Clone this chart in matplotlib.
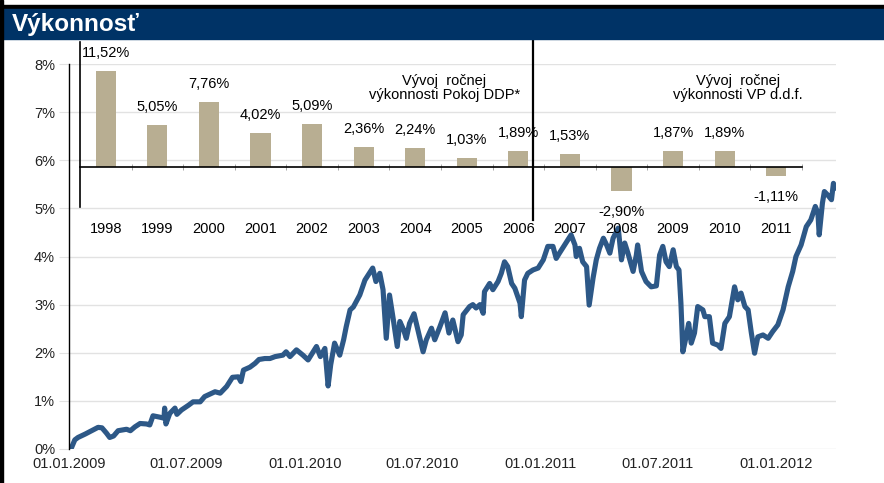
import numpy as np
import matplotlib
matplotlib.use('Agg')
import matplotlib.pyplot as plt
import matplotlib.dates as mdates
from matplotlib.patches import Rectangle

plt.rcParams['font.family'] = ['Liberation Sans', 'DejaVu Sans']

# hlavny graf - dni od 01.01.2009 a vykonnost v %
start = np.datetime64('2009-01-01')
dni = np.array([
    3, 9, 14, 25, 35, 45, 51, 58, 63, 69, 76, 89, 95, 102, 110, 120, 125, 130, 141, 147,
    148, 150, 156, 164, 167, 174, 185, 192, 203, 210, 221, 226, 234, 244, 253, 262, 266, 270, 280, 288,
    294, 303, 311, 319, 331, 336, 342, 352, 362, 370, 383, 389, 396, 401, 405, 411, 419, 425, 429, 435,
    440, 450, 458, 470, 475, 481, 486, 491, 496, 502, 508, 512, 518, 522, 527, 534, 540, 548, 553, 561,
    566, 574, 582, 588, 594, 602, 607, 610, 620, 625, 630, 636, 641, 643, 651, 656, 664, 669, 674, 679,
    685, 690, 698, 700, 705, 710, 718, 726, 734, 741, 749, 754, 759, 767, 777, 783, 785, 790, 795, 801,
    805, 811, 816, 821, 827, 832, 837, 842, 850, 855, 860, 865, 873, 878, 880, 886, 893, 901, 909, 914,
    919, 924, 929, 935, 940, 944, 947, 950, 955, 959, 963, 968, 973, 981, 984, 991, 996, 1004, 1009, 1015,
    1022, 1030, 1035, 1040, 1046, 1051, 1056, 1061, 1066, 1074, 1082, 1089, 1097, 1105, 1113, 1120, 1125, 1133, 1141, 1148,
    1155, 1159, 1161, 1166, 1169, 1174, 1180, 1183, 1186])
vykonnost = np.array([
    0.00, 0.19, 0.24, 0.31, 0.38, 0.45, 0.44, 0.33, 0.24, 0.27, 0.38, 0.41, 0.38, 0.46, 0.53, 0.52, 0.50, 0.69, 0.66, 0.64,
    0.85, 0.52, 0.74, 0.85, 0.72, 0.81, 0.91, 0.98, 0.98, 1.09, 1.16, 1.19, 1.16, 1.30, 1.49, 1.50, 1.40, 1.64, 1.70, 1.78,
    1.86, 1.88, 1.88, 1.92, 1.95, 2.02, 1.92, 2.06, 1.95, 1.85, 2.13, 1.92, 2.09, 1.31, 1.75, 2.20, 1.95, 2.27, 2.54, 2.89,
    2.95, 3.20, 3.51, 3.76, 3.48, 3.65, 3.31, 2.30, 3.20, 2.68, 2.13, 2.65, 2.47, 2.30, 2.61, 2.81, 2.47, 2.02, 2.27, 2.51,
    2.27, 2.54, 2.83, 2.41, 2.68, 2.23, 2.37, 2.79, 2.96, 3.00, 2.93, 3.00, 2.82, 3.27, 3.44, 3.31, 3.48, 3.65, 3.89, 3.79,
    3.44, 3.34, 3.03, 2.75, 3.51, 3.65, 3.72, 3.76, 3.93, 4.21, 4.21, 3.96, 4.07, 4.24, 4.45, 4.24, 4.00, 4.17, 3.89, 3.79,
    2.99, 3.55, 3.93, 4.17, 4.38, 4.24, 4.07, 4.38, 4.59, 3.93, 4.28, 4.07, 3.69, 4.03, 4.24, 3.69, 3.48, 3.37, 3.39, 4.03,
    4.21, 3.89, 3.79, 4.14, 3.79, 3.72, 3.03, 2.02, 2.33, 2.61, 2.20, 2.41, 2.96, 2.89, 2.75, 2.75, 2.20, 2.16, 2.09, 2.61,
    2.75, 3.37, 3.10, 3.24, 2.96, 2.89, 2.41, 1.99, 2.33, 2.37, 2.30, 2.44, 2.58, 2.89, 3.37, 3.69, 4.00, 4.24, 4.62, 4.76,
    5.04, 4.90, 4.45, 5.11, 5.35, 5.28, 5.18, 5.52, 5.42])
datumy = start + dni.astype('timedelta64[D]')
x_datumy = ['2009-01-01', '2009-07-01', '2010-01-01', '2010-07-01', '2011-01-01', '2011-07-01', '2012-01-01']

# rocna vykonnost (vlozeny graf)
roky = ['1998', '1999', '2000', '2001', '2002', '2003', '2004', '2005', '2006', '2007',
        '2008', '2009', '2010', '2011']
rocne = [11.52, 5.05, 7.76, 4.02, 5.09, 2.36, 2.24, 1.03, 1.89, 1.53, -2.90, 1.87, 1.89, -1.11]
hranica = 8.28  # ciara medzi Pokoj DDP a VP d.d.f.

W, H = 884, 483
modra = '#2d5887'
bezova = '#b8ae92'


def box(l, t, r, b):
    return [l / W, 1 - b / H, (r - l) / W, (b - t) / H]


fig = plt.figure(figsize=(W / 100, H / 100), dpi=100)
fig.patch.set_facecolor('white')

# hlavicka
fig.patches.append(Rectangle((0, 1 - 9 / H), 1, 4 / H, transform=fig.transFigure, color='black'))
fig.patches.append(Rectangle((0, 1 - 39 / H), 1, 30 / H, transform=fig.transFigure, color='#003366'))
fig.patches.append(Rectangle((0, 0), 2.5 / W, 1, transform=fig.transFigure, color='black'))
fig.text(12 / W, 1 - 24 / H, 'Výkonnosť', color='white', fontsize=17.5, fontweight='bold', va='center')

# hlavny graf
ax = fig.add_axes(box(69, 64, 836, 449))
ax.plot(datumy, vykonnost, color=modra, lw=3.7, solid_joinstyle='round', solid_capstyle='round')
ax.set_ylim(0, 8)
ax.set_xlim(start, start + np.timedelta64(1187, 'D'))
ax.set_yticks(range(0, 9))
ax.set_yticklabels([f'{v}%' for v in range(0, 9)])
ax.set_xticks(np.array(x_datumy, dtype='datetime64[D]'))
ax.xaxis.set_major_formatter(mdates.DateFormatter('%d.%m.%Y'))
ax.grid(axis='y', color='#e2e2e2', lw=1)
ax.set_axisbelow(True)
for s in ['top', 'right', 'bottom']:
    ax.spines[s].set_visible(False)
ax.spines['left'].set_color('black')
ax.spines['left'].set_linewidth(1)
ax.tick_params(axis='y', length=7, color='#e2e2e2', pad=3, labelsize=10.5, labelcolor='#222222')
ax.tick_params(axis='x', length=0, pad=6, labelsize=10.5, labelcolor='#222222')

# vlozeny graf
ins = fig.add_axes(box(80, 42, 802, 206.7))
ins.patch.set_alpha(0)
pos = np.arange(len(roky))
ins.bar(pos, rocne, width=0.39, color=bezova)
ins.set_xlim(-0.5, len(roky) - 0.5)
ins.set_ylim(-4.82, 15)
for i, v in enumerate(rocne):
    off = 13 if v >= 0 else -15
    ins.annotate(f'{v:.2f}%'.replace('.', ','), (i, v), xytext=(0, off), textcoords='offset points',
                 ha='center', va='center', fontsize=10.5)
ins.spines['top'].set_visible(False)
ins.spines['right'].set_visible(False)
ins.spines['bottom'].set_position(('data', 0))
ins.spines['bottom'].set_linewidth(1.2)
ins.spines['left'].set_linewidth(1.2)
ins.set_yticks([])
ins.set_xticks(pos)
ins.set_xticklabels(roky)
ins.set_xticks(np.arange(len(roky)) + 0.5, minor=True)
ins.tick_params(axis='x', which='major', length=0, pad=40, labelsize=10.5)
ins.tick_params(axis='x', which='minor', length=4, direction='inout', color='#999999')
ins.text(6.56, 9.5, 'Vývoj  ročnej\nvýkonnosti Pokoj DDP*', ha='center', va='center',
         fontsize=10.5, linespacing=1.0)
ins.text(12.26, 9.5, 'Vývoj  ročnej\nvýkonnosti VP d.d.f.', ha='center', va='center',
         fontsize=10.5, linespacing=1.0)
ins.axvline(hranica, ymin=-0.08, ymax=1.01, color='black', lw=1.6, clip_on=False)

fig.savefig('out.png', dpi=100)
